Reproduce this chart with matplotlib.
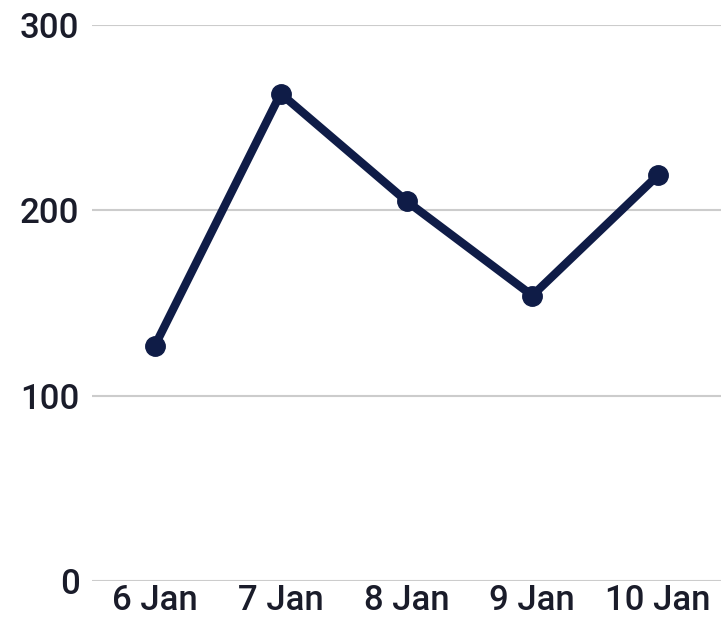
import matplotlib
matplotlib.use("Agg")
import matplotlib.pyplot as plt

dates = ["6 Jan", "7 Jan", "8 Jan", "9 Jan", "10 Jan"]
values = [127, 263, 205, 154, 219]
y_ticks = [0, 100, 200, 300]

LINE_COLOR = "#0f1c47"
TEXT_COLOR = "#1a1c2a"
GRID_COLOR = "#cccccc"

plt.rcParams["font.family"] = ["Roboto", "DejaVu Sans"]

fig = plt.figure(figsize=(7.21, 6.18), dpi=100)
ax = fig.add_axes([92 / 721, 1 - 581 / 618, 1 - 92 / 721, (581 - 25) / 618])

x = list(range(len(dates)))
ax.plot(x, values, color=LINE_COLOR, linewidth=6, marker="o", markersize=14,
        solid_joinstyle="miter", zorder=3, clip_on=False)

ax.set_xlim(-0.5, len(dates) - 0.5)
ax.set_ylim(0, 300)
ax.set_yticks(y_ticks)
ax.set_xticks(x)
ax.set_xticklabels(dates)
ax.tick_params(axis="both", length=0, labelsize=25, labelcolor=TEXT_COLOR)
ax.tick_params(axis="y", pad=9)
ax.tick_params(axis="x", pad=2)
for lbl in ax.get_xticklabels() + ax.get_yticklabels():
    lbl.set_fontweight("medium")

for t in y_ticks:
    ax.axhline(t, color=GRID_COLOR, linewidth=1.5, zorder=1)

for s in ax.spines.values():
    s.set_visible(False)

fig.savefig("out.png", dpi=100)
